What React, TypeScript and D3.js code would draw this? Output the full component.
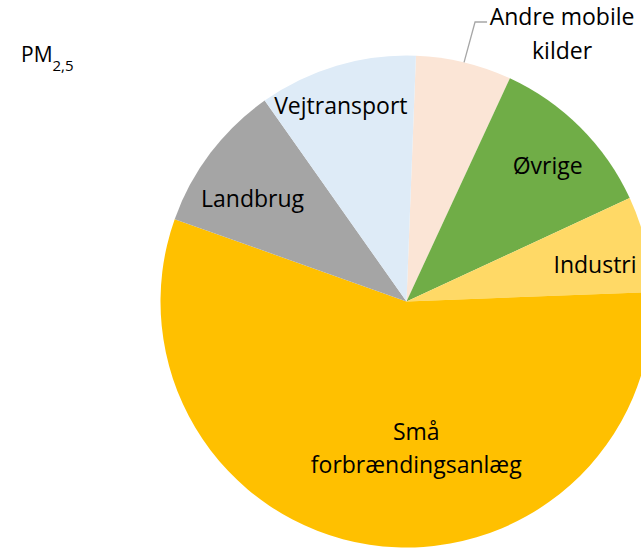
import React from 'react';
import * as d3 from 'd3';

// PM2,5 emission sources (share of total, %), clockwise from 12 o'clock
const sources = ['Andre mobile kilder', 'Øvrige', 'Industri', 'Små forbrændingsanlæg', 'Landbrug', 'Vejtransport'];
const shares = [6.3, 11.2, 6.3, 56.1, 9.8, 10.4];
const colors = ['#FBE5D6', '#70AD47', '#FFD966', '#FFC000', '#A5A5A5', '#DEEBF7'];

// label layout: text lines, radius factor, extra offsets
const labelLines = [['Andre mobile', 'kilder'], ['Øvrige'], ['Industri'], ['Små', 'forbrændingsanlæg'], ['Landbrug'], ['Vejtransport']];
const labelRadius = [1.0, 0.8, 0.78, 0.6, 0.76, 0.84];
const labelDx = [0, 2, 2, 32, -5, -7];
const labelDy = [0, 4, 8, 1, 10, 3];

const W = 641;
const H = 549;
const cx = 406.5;
const cy = 301.5;
const R = 246;
const firstAngle = (2.2 * Math.PI) / 180;

const App = () => {
  const data = sources.map((s, i) => ({ source: s, value: shares[i], i }));
  const pie = d3.pie<any>().sort(null).value(d => d.value)
    .startAngle(firstAngle).endAngle(firstAngle + 2 * Math.PI);
  const arcs = pie(data);
  const arc = d3.arc<any>().innerRadius(0).outerRadius(R);

  const font = "'Open Sans', sans-serif";

  return (
    <svg width={W} height={H} style={{ position: 'absolute', left: 0, top: 0 }} fontFamily={font}>
      <rect width={W} height={H} fill="#fff" />
      <text x={21} y={61.5} fontSize={21} fill="#000">
        PM<tspan fontSize={15} dy={9}>2,5</tspan>
      </text>
      <g transform={`translate(${cx},${cy})`}>
        {arcs.map((a, i) => (
          <path key={i} d={arc(a) as string} fill={colors[i]} />
        ))}
        {arcs.map((a, i) => {
          const mid = (a.startAngle + a.endAngle) / 2;
          const lines = labelLines[i];
          if (i === 0) {
            // outside label with leader line
            const ex = Math.sin(mid) * R;
            const ey = -Math.cos(mid) * R;
            const kx = ex + 11;
            const ky = 22 - cy;
            const tx = kx + 12;
            return (
              <g key={'l' + i}>
                <polyline points={`${ex},${ey} ${kx},${ky} ${tx},${ky}`} fill="none" stroke="#A6A6A6" strokeWidth={1.3} />
                {lines.map((t, j) => (
                  <text key={j} x={tx + 75} y={ky + 3 + j * 34} fontSize={23} textAnchor="middle" fill="#000">{t}</text>
                ))}
              </g>
            );
          }
          const r = R * labelRadius[i];
          const x = Math.sin(mid) * r + labelDx[i];
          const y = -Math.cos(mid) * r + labelDy[i];
          const lh = 33;
          const y0 = y - ((lines.length - 1) * lh) / 2;
          return (
            <g key={'l' + i}>
              {lines.map((t, j) => (
                <text key={j} x={x} y={y0 + j * lh} dy="0.35em" fontSize={23} textAnchor="middle" fill="#000">{t}</text>
              ))}
            </g>
          );
        })}
      </g>
    </svg>
  );
};

export default App;
